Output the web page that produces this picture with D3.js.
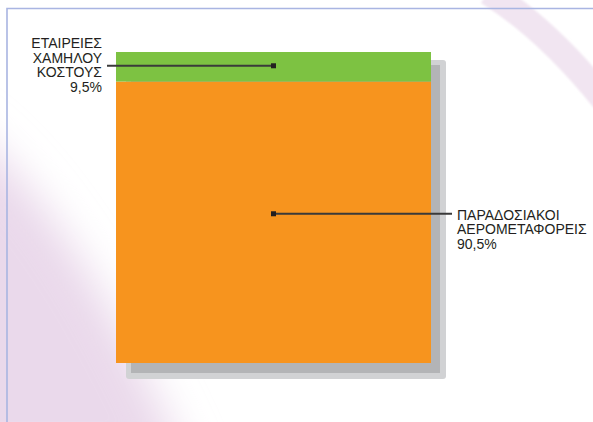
<!DOCTYPE html>
<html><head><meta charset="utf-8">
<script src="https://cdn.jsdelivr.net/npm/d3@7"></script>
<style>html,body{margin:0;padding:0;background:#fff;overflow:hidden}svg{display:block}</style>
</head><body>
<script>
// ---- data ----
const categories = ["ΠΑΡΑΔΟΣΙΑΚΟΙ ΑΕΡΟΜΕΤΑΦΟΡΕΙΣ", "ΕΤΑΙΡΕΙΕΣ ΧΑΜΗΛΟΥ ΚΟΣΤΟΥΣ"];
const values = [90.5, 9.5];
const valueLabels = ["90,5%", "9,5%"];
const nameLines = [["ΠΑΡΑΔΟΣΙΑΚΟΙ", "ΑΕΡΟΜΕΤΑΦΟΡΕΙΣ"], ["ΕΤΑΙΡΕΙΕΣ", "ΧΑΜΗΛΟΥ", "ΚΟΣΤΟΥΣ"]];
const colors = ["#f7941e", "#7dc242"];

const W = 593, H = 422;
const svg = d3.select("body").append("svg").attr("width", W).attr("height", H);
const defs = svg.append("defs");
defs.append("filter").attr("id", "blur").attr("x", "-50%").attr("y", "-50%").attr("width", "200%").attr("height", "200%")
  .append("feGaussianBlur").attr("stdDeviation", 20);
defs.append("filter").attr("id", "blur2").attr("x", "-50%").attr("y", "-50%").attr("width", "200%").attr("height", "200%")
  .append("feGaussianBlur").attr("stdDeviation", 1.2);

// background decoration
const bg = svg.append("g");
bg.append("path")
  .attr("d", "M-60,110 C30,160 110,290 190,470 L-60,470 Z")
  .attr("fill", "#ead9eb").attr("filter", "url(#blur)");
bg.append("path")
  .attr("d", "M488,-8 Q548,30 604,100")
  .attr("fill", "none").attr("stroke", "#f1e5f1").attr("stroke-width", 26).attr("filter", "url(#blur2)");

// frame
svg.append("path").attr("d", `M7,${H} L7,8.5 L${W},8.5`)
  .attr("fill", "none").attr("stroke", "#a9b5e2").attr("stroke-width", 1.6);

// scales
const x = d3.scaleBand().domain(["total"]).range([116, 431]).padding(0);
const y = d3.scaleLinear().domain([0, 100]).range([363, 52]);

// stacked data
const stackData = [{ key: "total" }];
categories.forEach((c, i) => stackData[0][c] = values[i]);
const series = d3.stack().keys(categories)(stackData);

// shadow
const x0 = x("total"), bw = x.bandwidth();
svg.append("rect").attr("x", x0 + 10).attr("y", y(100) + 8).attr("width", bw + 5).attr("height", y(0) - y(100) + 8)
  .attr("rx", 3).attr("fill", "#d1d2d4");
svg.append("rect").attr("x", x0 + 15).attr("y", y(100) + 13).attr("width", bw - 6).attr("height", y(0) - y(100) - 3)
  .attr("fill", "#b3b4b6");

// bars
svg.append("g").selectAll("rect").data(series).join("rect")
  .attr("x", x0).attr("width", bw)
  .attr("y", d => y(d[0][1])).attr("height", d => y(d[0][0]) - y(d[0][1]))
  .attr("fill", (d, i) => colors[i]);

// leaders & labels
const lineCol = "#3a3a3a", txtCol = "#231f20";
const fs = 14, lh = 14.5;
const font = "Liberation Sans, Arial, sans-serif";
const cx = x0 + bw / 2;
const anchorOffsets = [-8.5, -1]; // layout offset of dot from segment mid
series.forEach((s, i) => {
  const mid = (y(s[0][0]) + y(s[0][1])) / 2 + anchorOffsets[i];
  const g = svg.append("g");
  const lines = nameLines[i].concat([valueLabels[i]]);
  if (i === 0) {
    g.append("line").attr("x1", cx).attr("x2", 452).attr("y1", mid).attr("y2", mid)
      .attr("stroke", lineCol).attr("stroke-width", 2);
    g.append("rect").attr("x", cx - 2.5).attr("y", mid - 2.5).attr("width", 5).attr("height", 5).attr("fill", "#231f20");
    const t = g.append("text").attr("x", 457).attr("y", mid + 6).attr("font-family", font)
      .attr("font-size", fs).attr("fill", txtCol);
    lines.forEach((l, k) => t.append("tspan").attr("x", 457).attr("dy", k ? lh : 0).text(l));
  } else {
    g.append("line").attr("x1", 107).attr("x2", cx).attr("y1", mid).attr("y2", mid)
      .attr("stroke", lineCol).attr("stroke-width", 2);
    g.append("rect").attr("x", cx - 2.5).attr("y", mid - 2.5).attr("width", 5).attr("height", 5).attr("fill", "#231f20");
    const t = g.append("text").attr("x", 102).attr("y", 48).attr("text-anchor", "end")
      .attr("font-family", font).attr("font-size", fs).attr("fill", txtCol);
    lines.forEach((l, k) => t.append("tspan").attr("x", 102).attr("dy", k ? lh : 0).text(l));
  }
});
</script>
</body></html>
